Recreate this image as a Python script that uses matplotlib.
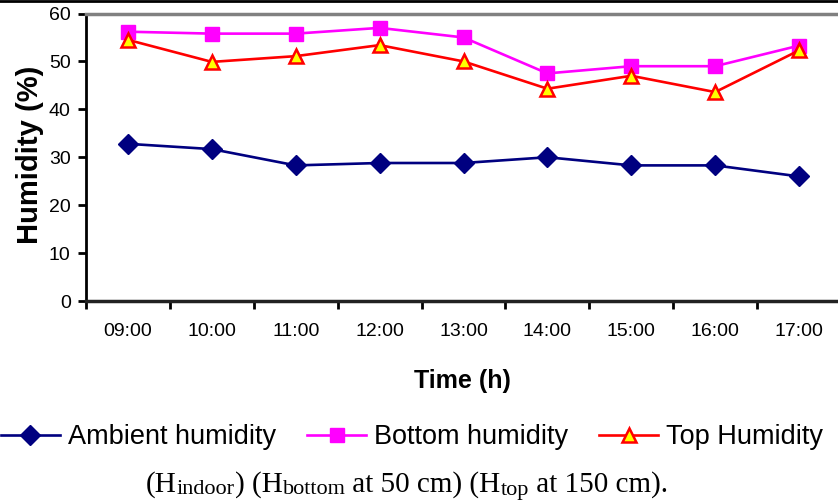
import matplotlib
matplotlib.use("Agg")
import matplotlib.pyplot as plt
from matplotlib.lines import Line2D

times = ["09:00", "10:00", "11:00", "12:00", "13:00", "14:00", "15:00", "16:00", "17:00"]
ambient = [32.8, 31.7, 28.3, 28.8, 28.8, 30.0, 28.3, 28.3, 26.0]
bottom = [56.2, 55.8, 55.8, 57.0, 55.0, 47.5, 49.0, 49.0, 53.3]
top = [54.5, 49.9, 51.1, 53.4, 50.0, 44.3, 47.0, 43.6, 52.3]
series_names = ["Ambient humidity", "Bottom humidity", "Top Humidity"]

W, H = 838, 503
fig = plt.figure(figsize=(W/100, H/100), dpi=100)
ax = fig.add_axes([86/W, 1-301/H, 755/W, (301-13.5)/H])

x = list(range(len(times)))
l1, = ax.plot(x, ambient, color='#000080', lw=1.9, marker='D', markersize=10.5,
              markerfacecolor='#000080', markeredgecolor='#000080', clip_on=False)
l2, = ax.plot(x, bottom, color='#FF00FF', lw=1.9, marker='s', markersize=9.5,
              markerfacecolor='#FF00FF', markeredgecolor='#FF00FF', clip_on=False)
l3, = ax.plot(x, top, color='#FF0000', lw=1.9, marker='^', markersize=10.5,
              markerfacecolor='#FFFF00', markeredgecolor='#FF0000', markeredgewidth=1.8,
              clip_on=False)

ax.set_xlim(-0.5, len(times)-0.5)
ax.set_ylim(0, 60)
ax.set_yticks(range(0, 61, 10))
ax.set_xticks(x)
ax.set_xticklabels(times)
ax.set_xticks([i-0.5 for i in range(len(times)+1)], minor=True)
ax.tick_params(axis='x', which='major', length=0, pad=16, labelsize=14)
ax.tick_params(axis='x', which='minor', length=6, width=2, direction='out', color='black')
ax.tick_params(axis='y', length=6, width=2, direction='out', pad=5, labelsize=14)
for lab in ax.get_xticklabels() + ax.get_yticklabels():
    lab.set_fontfamily('Liberation Sans')

ax.spines['left'].set_linewidth(2)
ax.spines['left'].set_color('black')
ax.spines['bottom'].set_linewidth(2.5)
ax.spines['bottom'].set_color('#222222')
ax.spines['top'].set_linewidth(2.5)
ax.spines['top'].set_color('#808080')
ax.spines['right'].set_visible(False)

fig.text(462/W, 1-381/H, "Time (h)", ha='center', va='center', fontsize=18,
         fontweight='bold', family='Liberation Sans')
fig.text(30/W, 1-155/H, "Humidity (%)", ha='center', va='center', rotation=90,
         fontsize=21, fontweight='bold', family='Liberation Sans')

fig.add_artist(Line2D([0, 1], [1-1/H, 1-1/H], color='black', lw=2))

fs = 19.5
em = fs * 100 / 72
leg = fig.legend([l1, l2, l3], series_names,
                 loc='center left', bbox_to_anchor=(1/W, 1-437/H), ncol=3, frameon=False,
                 prop={'family': 'Liberation Sans', 'size': fs}, handlelength=59/em,
                 handletextpad=8/em, columnspacing=31/em, borderaxespad=0, borderpad=0)

# caption with subscripts, composed piece by piece
pieces = [("(H", 0), ("indoor", 1), (") (H", 0), ("bottom", 1), (" at 50 cm) (H", 0),
          ("top", 1), (" at 150 cm).", 0)]
main_fs, sub_fs = 21, 16
renderer = fig.canvas.get_renderer()
texts = []
widths = []
for s, sub in pieces:
    t = fig.text(0, 0, s, fontsize=sub_fs if sub else main_fs, family='Liberation Serif',
                 ha='left', va='baseline')
    texts.append((t, sub))
    widths.append(t.get_window_extent(renderer).width)
total = sum(widths)
xpos = 407 - total/2
base = 492
for (t, sub), w in zip(texts, widths):
    t.set_position((xpos/W, 1-(base + (2.5 if sub else 0))/H))
    xpos += w

fig.savefig("out.png", dpi=100)
